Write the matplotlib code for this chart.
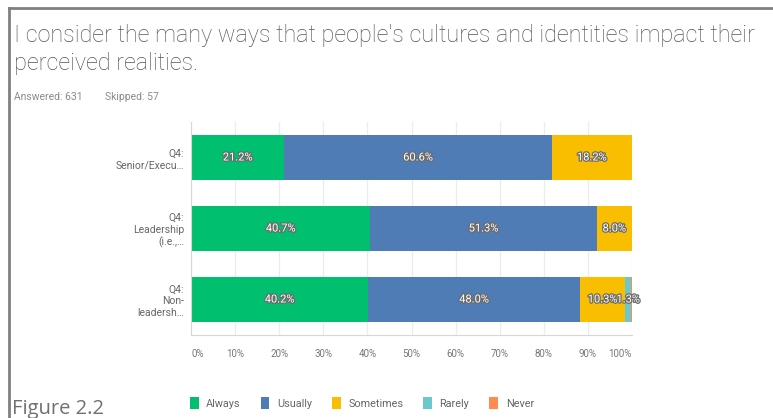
import matplotlib.pyplot as plt
import matplotlib.patheffects as pe
from matplotlib.lines import Line2D

plt.rcParams['font.family'] = ['Roboto', 'DejaVu Sans']

# survey results (percent of respondents)
groups = ["Q4:\nSenior/Execu…", "Q4:\nLeadership\n(i.e.,…", "Q4:\nNon-\nleadersh…"]
answers = ["Always", "Usually", "Sometimes", "Rarely", "Never"]
always = [21.2, 40.7, 40.2]
usually = [60.6, 51.3, 48.0]
sometimes = [18.2, 8.0, 10.3]
rarely = [0.0, 0.0, 1.3]
never = [0.0, 0.0, 0.2]
ticks = [0, 10, 20, 30, 40, 50, 60, 70, 80, 90, 100]

colors = ["#00bf6f", "#507cb6", "#f9be00", "#6bc8cd", "#ff8b4f"]
series = [always, usually, sometimes, rarely, never]

fig = plt.figure(figsize=(7.73, 4.18), dpi=100)

# outer frame (top and left edges)
fig.add_artist(Line2D([9/773, 9/773], [0, 1 - 8/418], color="#808080", lw=2))
fig.add_artist(Line2D([9/773, 1], [1 - 8/418, 1 - 8/418], color="#808080", lw=2))

fig.text(14/773, 1 - 42/418, "I consider the many ways that people's cultures and identities impact their",
         fontsize=16.8, color="#555555", fontweight="light", va="baseline")
fig.text(14/773, 1 - 70/418, "perceived realities.",
         fontsize=16.8, color="#555555", fontweight="light", va="baseline")
fig.text(14/773, 1 - 97/418, "Answered: 631", fontsize=7.5, color="#8a8a8a", va="center")
fig.text(105/773, 1 - 97/418, "Skipped: 57", fontsize=7.5, color="#8a8a8a", va="center")
fig.text(12/773, 1 - 414/418, "Figure 2.2", fontsize=14.5, color="#707070",
         family=["Open Sans", "DejaVu Sans"], va="baseline")

ax = fig.add_axes([191/773, 1 - 335/418, 441/773, 213/418])

ypos = list(range(len(groups)))
left = [0.0] * len(groups)
handles = []
for vals, col, name in zip(series, colors, answers):
    bars = ax.barh(ypos, vals, left=left, height=0.62, color=col, label=name, zorder=2)
    handles.append(bars)
    for y, v, l in zip(ypos, vals, left):
        if v >= 1:
            t = ax.text(l + v / 2, y, f"{v:.1f}%", ha="center", va="center",
                        fontsize=8, color="white", zorder=3)
            t.set_path_effects([pe.withStroke(linewidth=1.8, foreground="#6b6b6b")])
    left = [a + b for a, b in zip(left, vals)]

ax.set_xlim(0, 100)
ax.set_ylim(2.5, -0.5)
ax.set_yticks(ypos)
ax.set_yticklabels(groups, fontsize=7.5, color="#666666", linespacing=1.2)
ax.set_xticks(ticks)
ax.set_xticklabels([f"{t}%" for t in ticks], fontsize=7, color="#777777")
xl = ax.get_xticklabels()
xl[0].set_ha("left")
xl[-1].set_ha("right")
ax.tick_params(axis="both", length=0)
ax.tick_params(axis="x", pad=10)
ax.tick_params(axis="y", pad=5)
ax.grid(axis="x", color="#ececec", lw=0.9, zorder=0)
for s in ["top", "right"]:
    ax.spines[s].set_visible(False)
for s in ["left", "bottom"]:
    ax.spines[s].set_color("#d6d6d6")

fig.legend(handles=handles, labels=answers, loc="center left",
           bbox_to_anchor=(190/773, 1 - 403/418), ncol=5, frameon=False,
           fontsize=7.8, labelcolor="#666666", handlelength=0.8, handleheight=1.3,
           handletextpad=0.7, columnspacing=1.85, borderaxespad=0, borderpad=0)

fig.savefig("out.png", dpi=100)
